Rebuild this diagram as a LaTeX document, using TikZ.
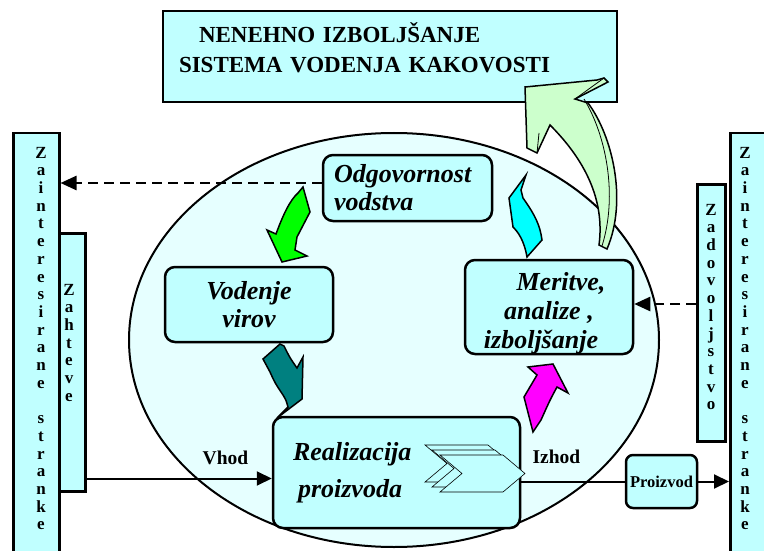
\documentclass[tikz,border=0pt]{standalone}
\usepackage{fontspec}
\setmainfont{Liberation Serif}
\usepackage{tikz}
\usetikzlibrary{arrows,arrows.meta,positioning}
\tikzset{every picture/.style={line width=2pt}}
\definecolor{boxcyan}{RGB}{192,255,255}
\definecolor{ovalcyan}{RGB}{230,255,255}
\definecolor{leafgreen}{RGB}{0,255,0}
\definecolor{tealarrow}{RGB}{0,128,128}
\definecolor{cyanarrow}{RGB}{0,255,255}
\definecolor{magarrow}{RGB}{255,0,255}
\definecolor{palegreen}{RGB}{204,255,204}
\tikzstyle{box}=[draw,fill=boxcyan,line width=2.5pt]
\tikzstyle{rbox}=[box,rounded corners=10pt,inner ysep=2pt,font=\bfseries\itshape\fontsize{26}{28}\selectfont]
\tikzstyle{col}=[box,anchor=north west,inner sep=0pt]
\tikzstyle{letters}=[anchor=north,inner sep=0pt,align=center,font=\bfseries\fontsize{17}{17.7}\selectfont]
\tikzstyle{lab}=[inner sep=0pt,font=\bfseries\fontsize{19.5}{22}\selectfont]
\tikzstyle{blockarrow}=[draw,line width=1.5pt,line join=miter]
\tikzstyle{chev}=[draw,fill=boxcyan,line width=0.6pt]
\begin{document}
\begin{tikzpicture}[x=1pt,y=-1pt]
\clip (0,0) rectangle (764,551);
% title
\node[box,minimum width=454pt,minimum height=91pt,inner xsep=16pt,text width=422pt,align=left,
  font=\bfseries\fontsize{23}{30}\selectfont] (T) at (390,56.5)
  {\hspace*{20pt}NENEHNO IZBOLJŠANJE\\SISTEMA VODENJA KAKOVOSTI\rule[-17pt]{0pt}{17pt}};
% oval
\draw[fill=ovalcyan,line width=2pt] (394,340) ellipse [x radius=265pt,y radius=207pt];
% side columns
\node[col,minimum width=46pt,minimum height=430pt] (ZL) at (12,132) {};
\node[col,minimum width=26pt,minimum height=258pt] (ZH) at (58,232) {};
\node[col,minimum width=28pt,minimum height=257pt] (ZD) at (696,183) {};
\node[col,minimum width=60pt,minimum height=430pt] (ZR) at (729,132) {};
\node[letters] (zl) at (41,146) {Z\\a\\i\\n\\t\\e\\r\\e\\s\\i\\r\\a\\n\\e\\\mbox{}\\s\\t\\r\\a\\n\\k\\e};
\node[letters] (zh) at (69,283) {Z\\a\\h\\t\\e\\v\\e};
\node[letters] (zd) at (711,203) {Z\\a\\d\\o\\v\\o\\l\\j\\s\\t\\v\\o};
\node[letters] (zr) at (745,146) {Z\\a\\i\\n\\t\\e\\r\\e\\s\\i\\r\\a\\n\\e\\\mbox{}\\s\\t\\r\\a\\n\\k\\e};
% process boxes
\node[rbox,minimum width=169pt,minimum height=66pt,inner xsep=11pt,text width=147pt,align=left] (O) at (407.5,188) {Odgovornost\\vodstva};
\node[rbox,minimum width=168pt,minimum height=75pt,align=center] (V) at (249,304.5) {Vodenje\\virov};
\node[rbox,minimum width=247pt,minimum height=111pt,inner xsep=20pt,text width=207pt,align=left,
  font=\bfseries\itshape\fontsize{26}{37}\selectfont] (R) at (396.5,472.5) {Realizacija\\\hspace*{5pt}proizvoda};
\node[rbox,minimum width=168pt,minimum height=94pt,inner ysep=0pt,align=center,
  font=\bfseries\itshape\fontsize{26}{29}\selectfont] (M) at (549,307)
  {\rule{0pt}{30pt}\hspace*{24pt}Meritve,\\analize ,\\izboljšanje\hspace*{16pt}};
\node[box,rounded corners=7pt,minimum width=71pt,minimum height=53pt,inner xsep=2pt,
  font=\bfseries\fontsize{16.5}{18}\selectfont] (P) at (661.5,481.5) {Proizvod};
% chevrons
\foreach \dx/\dy in {0/0,7/5,15/10}
  \draw[chev] (425+\dx,445+\dy) -- ++(63,0) -- ++(22,18.5) -- ++(-22,18.5) -- ++(-63,0) -- ++(22,-18.5) -- cycle;
% connectors
\coordinate (vin) at ([yshift=-6pt]R.west);
\coordinate (od) at ([yshift=5pt]O.west);
\coordinate (me) at ([yshift=3pt]M.east);
\path[->,>={Triangle[length=15pt,width=14pt]},line width=2pt]
(ZH.east |- vin) edge node[lab,above=13pt,pos=0.75]{Vhod} (vin)
(R.east |- P.west) edge[-] node[lab,above=17pt,pos=0.34]{Izhod} (P.west)
(P.east) edge (P.east -| ZR.west);
\path[->,>={Triangle[length=16pt,width=14pt]},line width=2.5pt,dash pattern=on 10pt off 6pt]
(od) edge (od -| ZL.east)
(ZD.west |- me) edge (me);
% curved arrows
\draw[blockarrow,fill=leafgreen] (303,187) -- (310,212) .. controls (303,225) .. (297,237) -- (295,250) -- (307,256)
  -- (282,262) -- (267,230) -- (276,234) .. controls (283,215) and (290,200) .. (298,193) -- cycle;
\draw[blockarrow,fill=tealarrow] (280,344) -- (284,346) .. controls (290,358) .. (297,368) -- (303,357) -- (302,399)
  -- (277,418) -- (288,407) .. controls (286,400) .. (283,395) .. controls (275,383) .. (270,372) -- (263,359) -- cycle;
\draw[blockarrow,fill=cyanarrow] (526,175) -- (521,190) -- (523,198) .. controls (535,215) and (540,225) .. (542,240)
  -- (527,257) .. controls (524,240) and (518,232) .. (513,227) -- (509,198) -- cycle;
\draw[blockarrow,fill=magarrow] (553,364) -- (568,393) -- (557,387) .. controls (550,400) .. (541,420) -- (533,432)
  -- (524,397) -- (537,375) -- (528,367) -- cycle;
\draw[blockarrow,fill=palegreen] (525,87) -- (597,80) -- (604,78) -- (608,82) -- (575,99) -- (588,103)
  .. controls (612,135) and (628,200) .. (607,249) -- (599,245) .. controls (605,200) and (585,160) .. (550,125)
  -- (537,153) -- (527,148) -- cycle;
\draw[line width=0.8pt] (584,99) .. controls (606,135) and (618,195) .. (602,246);
\draw[line width=0.8pt] (575,99) -- (604,78);
\draw[line width=0.8pt] (539,133) -- (537,153);
\end{tikzpicture}
\end{document}
